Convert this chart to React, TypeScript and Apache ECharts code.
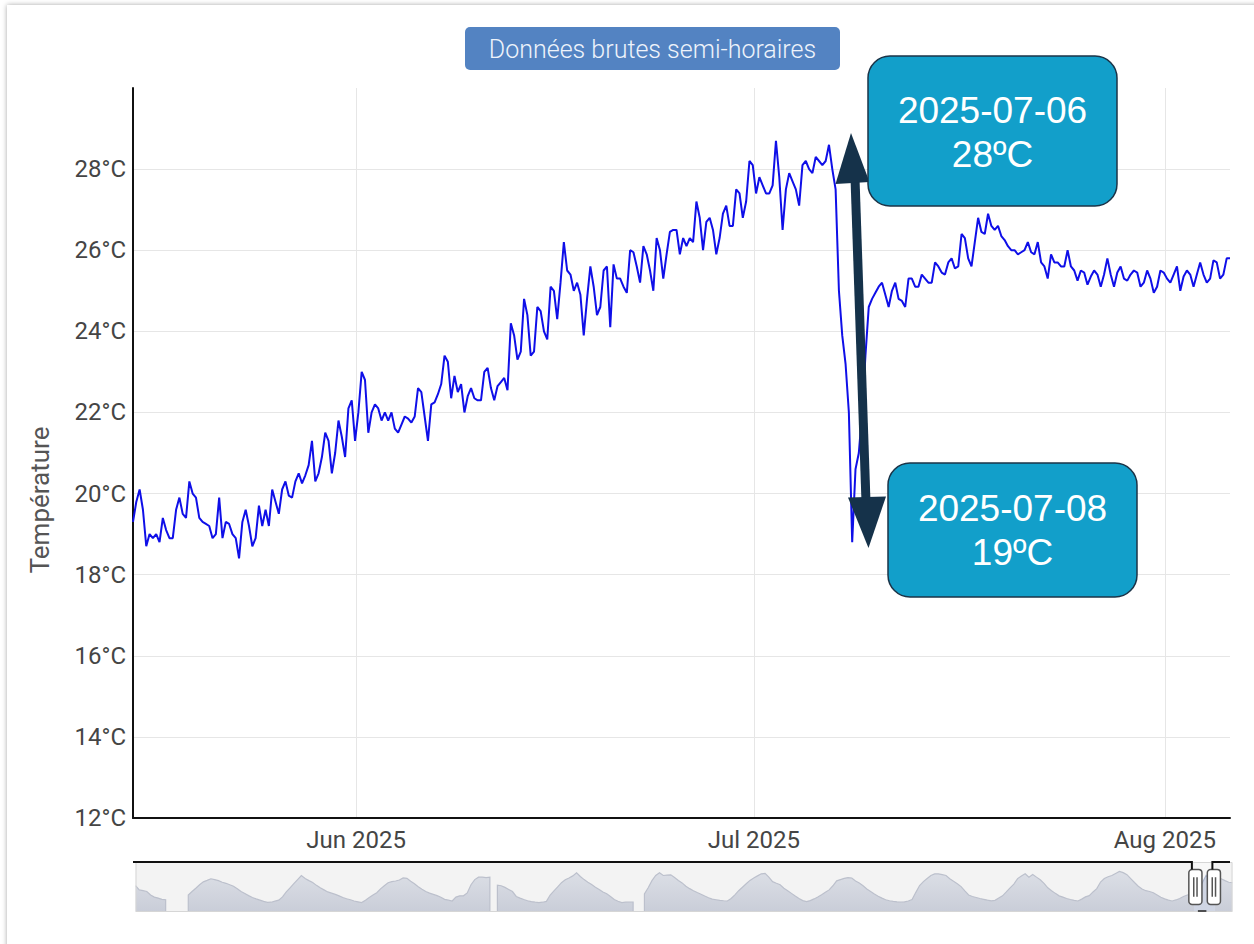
import React, { useEffect, useRef } from 'react';
import * as echarts from 'echarts';

// ---------- DATA ----------
// Semi-hourly raw readings, resampled every 6 hours
const SERIES_START = '2025-05-15T04:00:00';
const STEP_HOURS = 6;
const temperatures: number[] = [
  19.3, 19.8, 20.1, 19.6, 18.7, 19.0, 18.9, 19.0, 18.8, 19.4,
  19.1, 18.9, 18.9, 19.6, 19.9, 19.5, 19.4, 20.3, 20.0, 19.9,
  19.4, 19.3, 19.25, 19.2, 18.9, 19.0, 19.9, 18.9, 19.3, 19.25,
  19.0, 18.9, 18.4, 19.3, 19.6, 19.2, 18.7, 18.9, 19.7, 19.2,
  19.6, 19.2, 20.1, 19.8, 19.5, 20.1, 20.3, 19.95, 19.9, 20.3,
  20.5, 20.25, 20.45, 20.7, 21.3, 20.3, 20.5, 20.9, 21.5, 21.3,
  20.5, 21.0, 21.8, 21.4, 20.9, 22.1, 22.3, 21.3, 22.0, 23.0,
  22.8, 21.5, 22.0, 22.2, 22.1, 21.8, 22.0,
  21.8, 22.0, 21.6, 21.5, 21.7, 21.9, 21.85, 21.75, 21.9, 22.6,
  22.5, 21.9, 21.3, 22.2, 22.25, 22.45, 22.7, 23.4, 23.25, 22.35,
  22.9, 22.5, 22.7, 22.0, 22.4, 22.6, 22.35, 22.3, 22.3, 23.0,
  23.1, 22.6, 22.3, 22.65, 22.75, 22.85, 22.55, 24.2, 23.9, 23.3,
  23.5, 24.8, 24.4, 23.4, 23.5, 24.6, 24.5, 24.0, 23.8, 25.1,
  25.0, 24.3, 25.2, 26.2, 25.5, 25.4, 25.0, 25.2, 24.9, 23.9,
  24.8, 25.6, 25.1, 24.4,
  24.6, 25.5, 25.6, 24.1, 25.65, 25.3, 25.3, 25.1, 24.95, 26.0,
  25.95, 25.6, 25.2, 26.1, 25.9, 25.5, 25.0, 26.3, 26.0, 25.3,
  25.9, 26.45, 26.5, 26.5, 25.9, 26.3, 26.1, 26.3, 26.2, 27.2,
  26.8, 26.0, 26.7, 26.8, 26.5, 25.9, 26.3, 26.9, 27.1, 26.6,
  26.6, 27.5, 27.4, 26.8, 27.2, 28.2, 28.1, 27.4, 27.8, 27.6,
  27.4, 27.4, 27.6, 28.7, 27.8, 26.5, 27.5, 27.9, 27.7, 27.5,
  27.1, 28.1, 28.2, 28.0, 27.9, 28.3, 28.2, 28.1, 28.2, 28.6,
  28.0,
  27.5, 25.0, 23.9, 23.2, 22.0, 18.8, 20.6, 21.0, 22.0, 23.4,
  24.6, 24.8, 24.95, 25.1, 25.2, 24.9, 24.6, 25.0, 25.2, 24.8,
  24.75, 24.6, 25.3, 25.3, 25.1, 25.1, 25.4, 25.3, 25.2, 25.2,
  25.7, 25.6, 25.45, 25.4, 25.7, 25.8, 25.55, 25.6, 26.4, 26.3,
  25.8, 25.6, 26.2, 26.8, 26.45, 26.4, 26.9, 26.6, 26.5, 26.6,
  26.35, 26.25, 26.1, 26.0,
  26.0, 25.9, 25.95, 26.0, 26.2, 25.95, 25.9, 26.2, 25.7, 25.6,
  25.3, 25.9, 25.7, 25.7, 25.6, 25.6, 26.0, 25.6, 25.5, 25.25,
  25.5, 25.45, 25.15, 25.35, 25.5, 25.4, 25.1, 25.4, 25.8, 25.4,
  25.1, 25.45, 25.6, 25.3, 25.25, 25.4, 25.5, 25.45, 25.1, 25.2,
  25.5, 25.3, 24.95, 25.1, 25.5, 25.45, 25.3, 25.2, 25.4, 25.6,
  25.0, 25.35, 25.5, 25.4, 25.1, 25.4, 25.7, 25.4, 25.2, 25.3,
  25.75, 25.7, 25.3, 25.4, 25.8, 25.8,
];

// Long-term history (1st and 16th of each month), shown in the range slider; null = missing
const HISTORY_START = '2013-09-01';
const historyTemps: (number | null)[] = [
  23.1, 21.0, 20.6, 20.2, 18.5, 17.5, 17.0, 16.4, 16.2, null,
  null, null, null, null, 18.5, 20.2, 21.8, 23.5, 24.9, 25.6,
  26.4, 26.0, 25.5, 24.7, 24.2, 23.5, 22.8, 21.5, 20.2, 19.2,
  18.2, 17.3, 16.6, 16.0, 15.4, 14.9, 15.0, 15.5, 16.0, 17.6,
  20.0, 22.0, 24.0, 26.0, 28.0, 26.5, 25.5, 24.6, 23.2, 22.0,
  21.0, 20.0, 19.4, 18.8, 18.1, 17.3, 16.7, 16.2, 15.6, 15.2,
  14.8, 16.0, 17.3, 18.5, 19.6, 21.5, 23.0, 24.5, 25.0, 25.3,
  25.8, 26.8, 26.6, 25.2, 24.0, 22.5, 21.3, 20.2, 19.4, 18.8,
  18.2, 17.4, 16.4, 16.0, 15.6, 17.5, 18.1, 18.1, 19.5, 23.5,
  26.0, 27.2, 27.2, 27.0, 27.2, null, 23.3, 23.0, 22.2, 21.2,
  20.2, 17.8, 17.0, 16.3, 15.7, 15.3, 15.0, 14.8, 15.0, 15.4,
  18.5, 20.5, 22.5, 24.5, 25.9, 26.8, 27.8, 29.3, 27.5, 26.0,
  24.7, 23.6, 22.3, 21.2, 20.0, 19.1, 17.8, 16.3, 15.5, 14.8,
  15.0, 15.1, 15.1, null, null, 19.0, 22.0, 25.5, 28.0, 29.3,
  28.0, 28.2, 28.3, 27.0, 25.6, 24.4, 22.8, 21.6, 20.6, 19.7,
  18.9, 18.0, 17.2, 16.5, 16.2, 15.9, 15.7, 15.6, 16.8, 18.6,
  20.6, 22.3, 24.0, 25.6, 26.8, 27.8, 28.8, 29.0, 27.2, 25.0,
  24.2, 23.5, 21.8, 20.6, 19.3, 18.0, 16.8, 15.8, 15.3, 15.8,
  16.6, 17.5, 18.6, 19.8, 21.0, 23.0, 25.4, 26.0, 26.6, 27.0,
  26.8, 25.3, 24.3, 23.0, 21.4, 20.2, 19.0, 17.9, 17.0, 16.2,
  15.7, 15.4, 15.2, 15.1, 15.2, 15.6, 16.3, 19.8, 23.1, 25.0,
  26.5, 28.0, 28.8, 28.8, 28.4, 28.0, 26.4, 25.2, 24.0, 22.6,
  20.5, 18.5, 17.8, 17.3, 16.8, 16.4, 16.0, 15.7, 15.9, 17.0,
  18.1, 20.0, 22.0, 23.8, 26.5, 27.8, 28.8, 27.2, 28.5, 27.2,
  25.9, 24.2, 22.0, 20.6, 19.3, 18.1, 17.5, 16.8, 16.3, 15.9,
  15.6, 16.5, 17.6, 18.2, 20.0, 21.6, 24.8, 26.5, 27.4, 28.0,
  29.0, 30.0, 29.4, 28.4, 26.5, 24.6, 22.8, 21.4, 20.6, 20.2,
  19.6, 18.5, 17.4, 16.6, 16.0, 15.6, 16.1, 16.8, 17.8, 18.5,
  18.9, 19.0, 21.4, 24.5, 28.0, 25.6, 25.8, 26.4, 26.4, 25.5,
  24.7, 24.5,
];

const monthTicks = ['2025-06-01', '2025-07-01', '2025-08-01'];
const monthLabels = ['Jun 2025', 'Jul 2025', 'Aug 2025'];

const Y_MIN = 12;
const Y_MAX = 30;
const Y_STEP = 2;

const buttonLabel = 'Données brutes semi-horaires';
const yAxisName = 'Température';
const calloutHigh = ['2025-07-06', '28ºC'];
const calloutLow = ['2025-07-08', '19ºC'];

// ---------- CHART ----------
const W = 1254;
const H = 944;
const GRID = { left: 133, right: 24, top: 88, bottom: 126 };
const SLIDER = { left: 133, right: 24, top: 862, height: 50 };

function localTime(s: string): number {
  return new Date(s.length <= 10 ? s + 'T00:00:00' : s).getTime();
}

export default function App() {
  const ref = useRef<HTMLDivElement | null>(null);

  useEffect(() => {
    if (!ref.current) return;
    const chart = echarts.init(ref.current, undefined, { renderer: 'svg' });

    const t0 = localTime(SERIES_START);
    const mainData = temperatures.map((v, i) => [t0 + i * STEP_HOURS * 3600000, v]);
    const mainStart = mainData[0][0] as number;
    const mainEnd = mainData[mainData.length - 1][0] as number;

    const [hy, hm] = HISTORY_START.split('-').map(Number);
    const historyData = historyTemps.map((v, k) => [
      new Date(hy, hm - 1 + Math.floor(k / 2), k % 2 ? 16 : 1).getTime(),
      v,
    ]);
    const dataMin = Math.min(historyData[0][0] as number, mainStart);
    const dataMax = Math.max(historyData[historyData.length - 1][0] as number, mainEnd);

    const tickTimes = monthTicks.map(localTime);

    const sliderW = W - SLIDER.left - SLIDER.right;
    const winL = SLIDER.left + (sliderW * (mainStart - dataMin)) / (dataMax - dataMin);
    const winR = SLIDER.left + (sliderW * (mainEnd - dataMin)) / (dataMax - dataMin);
    const sTop = SLIDER.top;
    const sBot = SLIDER.top + SLIDER.height;
    const handleH = SLIDER.height * 0.7;
    const handleTop = sTop + (SLIDER.height - handleH) / 2;

    const dark = '#15324a';
    const calloutFill = '#129fca';
    const calloutStroke = '#1b3448';

    chart.setOption({
      animation: false,
      backgroundColor: 'transparent',
      textStyle: { fontFamily: 'Roboto' },
      grid: { ...GRID, containLabel: false, outerBoundsMode: 'none' },
      xAxis: {
        type: 'value',
        scale: true,
        axisLine: { show: true, onZero: false, lineStyle: { color: '#111', width: 2 } },
        axisTick: { show: false, customValues: tickTimes },
        axisLabel: {
          customValues: tickTimes,
          formatter: (val: number) => {
            const idx = tickTimes.indexOf(val);
            return idx >= 0 ? monthLabels[idx] : '';
          },
          fontSize: 24,
          color: '#454545',
          margin: 10,
          fontFamily: 'Roboto',
        },
        splitLine: { show: true, lineStyle: { color: '#e6e6e6', width: 1 } },
      },
      yAxis: {
        type: 'value',
        min: Y_MIN,
        max: Y_MAX,
        interval: Y_STEP,
        name: yAxisName,
        nameLocation: 'middle',
        nameGap: 80,
        nameTextStyle: {
          fontSize: 26,
          color: '#555',
          fontFamily: 'Roboto',
          padding: [0, 94, 0, 0],
        },
        axisLine: { show: true, lineStyle: { color: '#111', width: 2 } },
        axisTick: { show: false },
        axisLabel: {
          formatter: '{value}°C',
          fontSize: 24,
          color: '#454545',
          margin: 7,
          showMaxLabel: false,
          fontFamily: 'Roboto',
        },
        splitLine: { show: true, showMaxLine: false, lineStyle: { color: '#e6e6e6', width: 1 } },
      },
      dataZoom: [
        {
          type: 'slider',
          xAxisIndex: 0,
          filterMode: 'filter',
          startValue: mainStart,
          endValue: mainEnd,
          left: SLIDER.left,
          right: SLIDER.right,
          top: SLIDER.top,
          height: SLIDER.height,
          backgroundColor: '#f3f3f3',
          borderColor: '#d6d6d6',
          fillerColor: 'rgba(255,255,255,0.45)',
          showDataShadow: true,
          dataBackground: {
            lineStyle: { color: '#bcc0cc', width: 1.2, opacity: 1 },
            areaStyle: {
              color: {
                type: 'linear', x: 0, y: 0, x2: 0, y2: 1,
                colorStops: [
                  { offset: 0, color: '#c9cdd8' },
                  { offset: 1, color: '#dcdfe6' },
                ],
              },
              opacity: 1,
            },
          },
          selectedDataBackground: {
            lineStyle: { color: '#6c7fab', width: 1.2, opacity: 1 },
            areaStyle: { color: '#a8b3cc', opacity: 1 },
          },
          handleIcon:
            'path://M3,0H9A3,3,0,0,1,12,3V29A3,3,0,0,1,9,32H3A3,3,0,0,1,0,29V3A3,3,0,0,1,3,0ZM4.5,7V25M7.5,7V25',
          handleSize: '70%',
          handleStyle: { color: '#fff', borderColor: '#555', borderWidth: 1.5 },
          moveHandleSize: 0,
          showDetail: false,
          brushSelect: false,
          emphasis: { handleStyle: { borderColor: '#555', color: '#fff' } },
        },
      ],
      series: [
        {
          name: 'Historique',
          type: 'line',
          data: historyData,
          showSymbol: false,
          symbol: 'none',
          silent: true,
          lineStyle: { opacity: 0, width: 0 },
          itemStyle: { opacity: 0 },
          emphasis: { disabled: true },
          z: 1,
        },
        {
          name: 'Température',
          type: 'line',
          data: mainData,
          showSymbol: false,
          symbol: 'none',
          lineStyle: { color: '#0f0fe8', width: 2 },
          emphasis: { disabled: true },
          z: 3,
        },
      ],
      graphic: [
        {
          type: 'rect',
          shape: { x: 465, y: 27, width: 375, height: 43, r: 5 },
          style: { fill: '#5383c2' },
          z: 50,
        },
        {
          type: 'text',
          x: 652.5,
          y: 49,
          style: {
            text: buttonLabel,
            fill: '#eef3fb',
            fontSize: 25,
            fontFamily: 'Roboto',
            fontWeight: 300,
            align: 'center',
            verticalAlign: 'middle',
          },
          z: 51,
        },
        {
          type: 'polyline',
          shape: { points: [[SLIDER.left, sTop], [winL, sTop], [winL, handleTop]] },
          style: { stroke: '#111', lineWidth: 2, fill: null },
          z: 20,
        },
        {
          type: 'polyline',
          shape: { points: [[winR, handleTop], [winR, sTop], [W - SLIDER.right, sTop]] },
          style: { stroke: '#111', lineWidth: 2, fill: null },
          z: 20,
        },
        {
          type: 'line',
          shape: { x1: winL + 6, y1: sBot - 1, x2: winR - 6, y2: sBot - 1 },
          style: { stroke: '#222', lineWidth: 1.5 },
          z: 20,
        },
        {
          type: 'line',
          shape: { x1: 855, y1: 178, x2: 866, y2: 502 },
          style: { stroke: dark, lineWidth: 9 },
          z: 40,
        },
        {
          type: 'polygon',
          shape: { points: [[851, 133], [835.5, 184], [869.5, 182]] },
          style: { fill: dark },
          z: 40,
        },
        {
          type: 'polygon',
          shape: { points: [[868.5, 548], [848, 497.5], [886, 496.5]] },
          style: { fill: dark },
          z: 40,
        },
        {
          type: 'rect',
          shape: { x: 868, y: 56, width: 249, height: 150, r: 22 },
          style: { fill: calloutFill, stroke: calloutStroke, lineWidth: 1.5 },
          z: 45,
        },
        {
          type: 'text',
          x: 992.5,
          y: 132,
          style: {
            text: calloutHigh.join('\n'),
            fill: '#ffffff',
            fontSize: 37,
            lineHeight: 44,
            fontFamily: '"Liberation Sans", Arial, sans-serif',
            align: 'center',
            verticalAlign: 'middle',
          },
          z: 46,
        },
        {
          type: 'rect',
          shape: { x: 888, y: 463, width: 249, height: 134, r: 22 },
          style: { fill: calloutFill, stroke: calloutStroke, lineWidth: 1.5 },
          z: 45,
        },
        {
          type: 'text',
          x: 1012.5,
          y: 530,
          style: {
            text: calloutLow.join('\n'),
            fill: '#ffffff',
            fontSize: 37,
            lineHeight: 44,
            fontFamily: '"Liberation Sans", Arial, sans-serif',
            align: 'center',
            verticalAlign: 'middle',
          },
          z: 46,
        },
      ],
    });

    return () => {
      chart.dispose();
    };
  }, []);

  return (
    <div
      style={{
        position: 'fixed',
        left: 0,
        top: 0,
        width: W,
        height: H,
        overflow: 'hidden',
        background: '#ffffff',
      }}
    >
      <div
        style={{
          position: 'absolute',
          left: 7,
          top: 5,
          width: W + 40,
          height: H + 40,
          background: '#ffffff',
          boxShadow: '0 0 5px rgba(0,0,0,0.35)',
        }}
      />
      <div
        ref={ref}
        style={{ position: 'absolute', left: 0, top: 0, width: W, height: H }}
      />
    </div>
  );
}
